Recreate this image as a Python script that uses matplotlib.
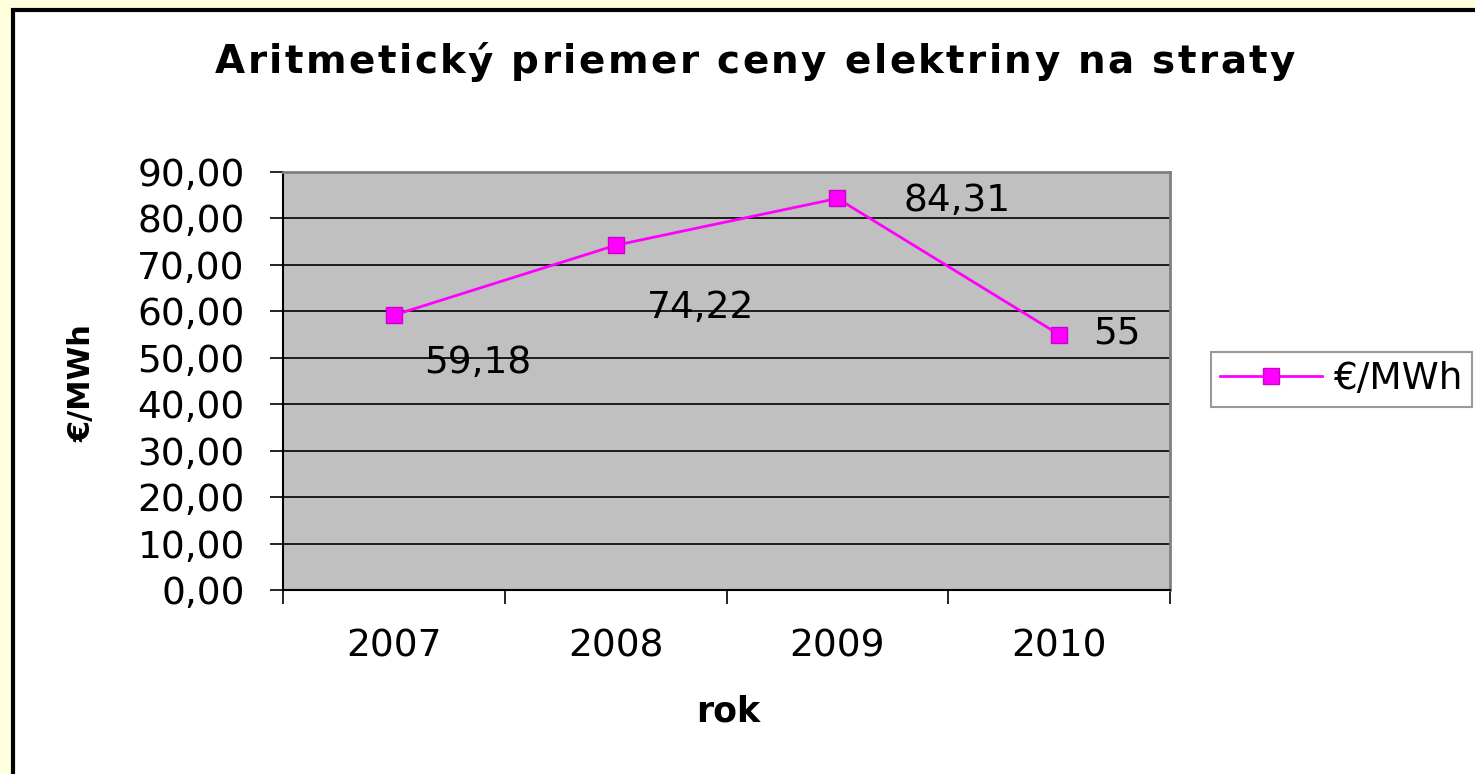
import matplotlib
matplotlib.use("Agg")
import matplotlib.pyplot as plt
from matplotlib.patches import Rectangle

plt.rcParams['font.family'] = ['DejaVu Sans']

years = ["2007", "2008", "2009", "2010"]
prices = [59.18, 74.22, 84.31, 55]
value_labels = ["59,18", "74,22", "84,31", "55"]
y_ticks = [0, 10, 20, 30, 40, 50, 60, 70, 80, 90]
y_tick_labels = ["0,00", "10,00", "20,00", "30,00", "40,00", "50,00", "60,00", "70,00", "80,00", "90,00"]
title = "Aritmetický priemer ceny elektriny na straty"
series_name = "€/MWh"

W, H = 1475, 774
fig = plt.figure(figsize=(W / 100, H / 100), dpi=100)
fig.patch.set_facecolor("#FFFFDD")

# white chart area with black border, extending beyond image edges
bg = Rectangle((12.5 / W, -0.05), 1.1, 1 - 9.5 / H + 0.05,
               transform=fig.transFigure, facecolor="white",
               edgecolor="black", linewidth=3, zorder=-10)
fig.patches.append(bg)

ax = fig.add_axes([283 / W, 1 - 590 / H, (1170 - 283) / W, (590 - 172) / H])
ax.set_zorder(2)
ax.set_facecolor("#C0C0C0")

x = list(range(len(years)))
line, = ax.plot(x, prices, color="#FF00FF", linewidth=2, marker="s",
                markersize=11, markerfacecolor="#FF00FF",
                markeredgecolor="#CC00CC", markeredgewidth=1, zorder=5,
                label=series_name)

offsets = [(84, -48), (85, -63), (120, -3), (58, 1)]
for xi, yi, lab, off in zip(x, prices, value_labels, offsets):
    ax.annotate(lab, (xi, yi), xytext=off, textcoords="offset pixels",
                ha="center", va="center", fontsize=27, color="black", zorder=6)

ax.set_xlim(-0.5, 3.5)
ax.set_ylim(0, 90)
ax.set_yticks(y_ticks)
ax.set_yticklabels(y_tick_labels, fontsize=27)
ax.yaxis.grid(True, color="black", linewidth=1.2)
ax.set_axisbelow(True)

ax.set_xticks([-0.5, 0.5, 1.5, 2.5, 3.5])
ax.set_xticklabels([])
ax.set_xticks(x, minor=True)
ax.set_xticklabels(years, minor=True, fontsize=27)
ax.tick_params(axis="x", which="minor", length=0, pad=28)
ax.tick_params(axis="x", which="major", length=10, width=1.2, color="black", direction="out")
ax.tick_params(axis="y", length=9.5, width=1.2, color="black", pad=18)

for s in ["top", "right"]:
    ax.spines[s].set_color("#808080")
    ax.spines[s].set_linewidth(2)
ax.spines["left"].set_color("black")
ax.spines["left"].set_linewidth(1.5)
ax.spines["bottom"].set_color("black")
ax.spines["bottom"].set_linewidth(1.5)

# title with letter spacing (drawn character by character)
renderer = fig.canvas.get_renderer()
title_fs = 28
target_left, target_right = 215, 1295


def prefix_width(s):
    t = fig.text(0, 0, s + "|", fontsize=title_fs, fontweight="bold")
    w1 = t.get_window_extent(renderer).width
    t.remove()
    t = fig.text(0, 0, "|", fontsize=title_fs, fontweight="bold")
    w2 = t.get_window_extent(renderer).width
    t.remove()
    return w1 - w2


full_w = prefix_width(title)
n = len(title)
spacing = (target_right - target_left - full_w) / (n - 1)
for i, ch in enumerate(title):
    if ch == " ":
        continue
    px = target_left + prefix_width(title[:i]) + i * spacing
    fig.text(px / W, 1 - 62 / H, ch, ha="left", va="center",
             fontsize=title_fs, fontweight="bold")

fig.text(82 / W, 1 - 383 / H, series_name, ha="center", va="center",
         fontsize=22, fontweight="bold", rotation=90)
fig.text(728 / W, 1 - 711 / H, "rok", ha="center", va="center",
         fontsize=25, fontweight="bold")

leg = fig.legend(handles=[line], loc="upper left",
                 bbox_to_anchor=(1211 / W, 1 - 352 / H), fontsize=27,
                 frameon=True, fancybox=False, handlelength=2.7,
                 borderpad=0.25, handletextpad=0.3, borderaxespad=0)
leg.get_frame().set_edgecolor("#808080")
leg.get_frame().set_linewidth(1.5)

fig.savefig("out.png", dpi=100, facecolor=fig.get_facecolor())
